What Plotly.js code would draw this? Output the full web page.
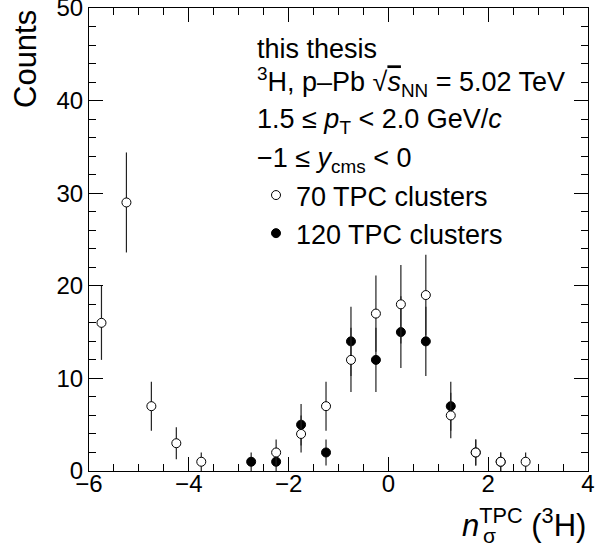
<!DOCTYPE html>
<html>
<head>
<meta charset="utf-8">
<script src="https://cdn.plot.ly/plotly-3.0.1.min.js"></script>
<style>html,body{margin:0;padding:0;background:#fff;}</style>
</head>
<body>
<div id="chart" style="width:595px;height:544px;"></div>
<script>
// 70 TPC clusters (open markers)
const x70 = [-5.75, -5.25, -4.75, -4.25, -3.75, -2.25, -1.75, -1.25, -0.75, -0.25, 0.25, 0.75, 1.25, 1.75, 2.25, 2.75];
const y70 = [16, 29, 7, 3, 1, 2, 4, 7, 12, 17, 18, 19, 6, 2, 1, 1];
const e70 = [4, 5.4, 2.65, 1.73, 1, 1.41, 2, 2.65, 3.46, 4.12, 4.24, 4.36, 2.45, 1.41, 1, 1];
// 120 TPC clusters (filled markers)
const x120 = [-2.75, -2.25, -1.75, -1.25, -0.75, -0.25, 0.25, 0.75, 1.25, 1.75, 2.25];
const y120 = [1, 1, 5, 2, 14, 12, 15, 14, 7, 2, 1];
const e120 = [1, 1, 2.24, 1.41, 3.74, 3.46, 3.87, 3.74, 2.65, 1.41, 1];

const names = ['70 TPC clusters', '120 TPC clusters'];
const textLines = [
  'this thesis',
  '<sup>3</sup>H, p\u2013Pb \u221A<span style="text-decoration:overline"><i>s</i></span><sub>NN</sub> = 5.02 TeV',
  '1.5 \u2264 <i>p</i><sub>T</sub> &lt; 2.0 GeV/<i>c</i>',
  '\u22121 \u2264 <i>y</i><sub>cms</sub> &lt; 0'
];

const FONT = 'Liberation Sans, Arial, Helvetica, sans-serif';
const L = 89, R = 7, T = 8, B = 73, W = 595, H = 544;
const pw = W - L - R, ph = H - T - B;
const px = v => (v - L) / pw;
const py = v => (H - B - v) / ph;

const errStyle = {type: 'data', visible: true, thickness: 1.2, width: 0, color: '#222'};

const traces = [
  {
    x: x120, y: y120, type: 'scatter', mode: 'markers', name: names[1],
    error_y: Object.assign({array: e120}, errStyle),
    marker: {symbol: 'circle', size: 9, color: '#000', line: {color: '#000', width: 1}},
    legendrank: 2
  },
  {
    x: x70, y: y70, type: 'scatter', mode: 'markers', name: names[0],
    error_y: Object.assign({array: e70}, errStyle),
    marker: {symbol: 'circle', size: 9, color: '#fff', line: {color: '#000', width: 1}},
    legendrank: 1
  }
];

const centers = [49, 82, 121, 160];
const annotations = textLines.map((t, i) => ({
  text: t, xref: 'paper', yref: 'paper', x: px(255), y: py(centers[i]),
  xanchor: 'left', yanchor: 'middle', showarrow: false,
  font: {family: FONT, size: 27, color: '#000'}
}));

// axis titles
annotations.push({
  text: 'Counts', xref: 'paper', yref: 'paper', x: px(25), y: 1,
  xanchor: 'center', yanchor: 'top', textangle: -90, showarrow: false,
  font: {family: FONT, size: 31, color: '#000'}
});
annotations.push({
  text: '<i>n</i><sup>TPC</sup> (<sup>3</sup>H)', xref: 'paper', yref: 'paper', x: 1.0, y: py(501),
  xanchor: 'right', yanchor: 'top', showarrow: false,
  font: {family: FONT, size: 31, color: '#000'}
});
annotations.push({
  text: '\u03C3', xref: 'paper', yref: 'paper', x: px(481), y: py(535),
  xanchor: 'left', yanchor: 'middle', showarrow: false,
  font: {family: FONT, size: 21, color: '#000'}
});

const axisCommon = {
  showline: true, linecolor: '#000', linewidth: 1, mirror: 'allticks',
  ticks: 'inside', ticklen: 14, tickwidth: 1, tickcolor: '#000',
  showgrid: false, zeroline: false, ticklabeloverflow: 'allow',
  tickfont: {family: FONT, size: 24, color: '#000'}
};

const layout = {
  width: W, height: H,
  margin: {l: L, r: R, t: T, b: B, pad: 0},
  paper_bgcolor: '#fff', plot_bgcolor: '#fff',
  showlegend: true,
  legend: {
    x: px(256), y: py(171), xanchor: 'left', yanchor: 'top',
    bgcolor: 'rgba(0,0,0,0)', borderwidth: 0,
    font: {family: FONT, size: 27, color: '#000'},
    traceorder: 'normal'
  },
  xaxis: Object.assign({}, axisCommon, {
    range: [-6, 4], dtick: 2, tick0: 0, ticklabelstandoff: -9,
    minor: {dtick: 0.5, ticklen: 7, ticks: 'inside', tickcolor: '#000', showgrid: false}
  }),
  yaxis: Object.assign({}, axisCommon, {
    range: [0, 50], dtick: 10, tick0: 0,
    minor: {dtick: 2, ticklen: 7, ticks: 'inside', tickcolor: '#000', showgrid: false}
  }),
  annotations: annotations
};

Plotly.newPlot('chart', traces, layout, {displayModeBar: false, staticPlot: true});
</script>
</body>
</html>
